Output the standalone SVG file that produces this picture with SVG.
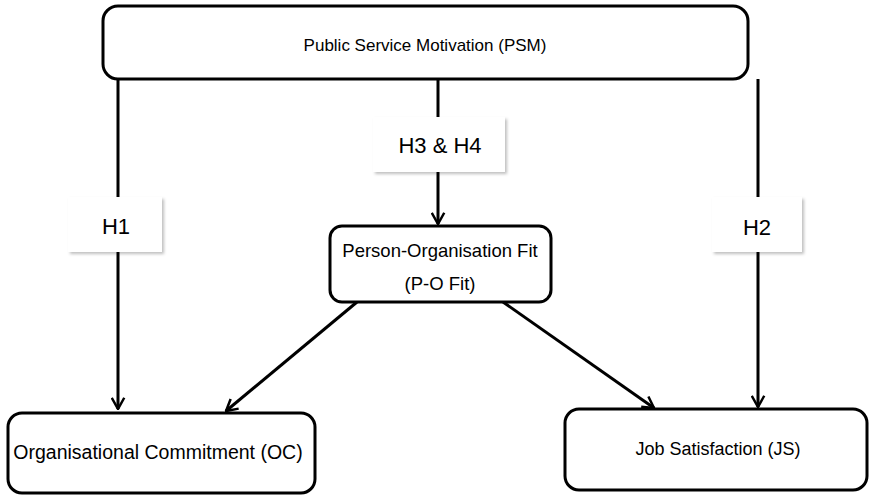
<svg xmlns="http://www.w3.org/2000/svg" width="869" height="495" viewBox="0 0 869 495">
<style>
.box{fill:#fff;stroke:#000;stroke-width:3}
.lbl{fill:#fff;filter:url(#sh)}
.t{font-family:"Liberation Sans",Arial,sans-serif;fill:#000;text-anchor:middle}
.h{font-family:"Liberation Sans",Arial,sans-serif;font-size:22px;fill:#000;text-anchor:middle}
.c{stroke:#000;stroke-width:3;fill:none;marker-end:url(#ah)}
</style>
<defs>
<marker id="ah" viewBox="0 0 12 12" refX="11" refY="6" markerWidth="5" markerHeight="5" orient="auto" markerUnits="strokeWidth">
<polyline points="2,1 11,6 2,11" fill="none" stroke="#000" stroke-width="2"/>
</marker>
<filter id="sh" x="-20%" y="-20%" width="150%" height="150%">
<feDropShadow dx="2" dy="2" stdDeviation="1.5" flood-color="#000" flood-opacity="0.25"/>
</filter>
</defs>
<g id="connectors">
<line class="c" x1="118" y1="79" x2="118" y2="409"/>
<line class="c" x1="438" y1="79" x2="438" y2="224"/>
<line class="c" x1="758" y1="79" x2="758" y2="407"/>
<line class="c" x1="357" y1="302" x2="226" y2="411"/>
<line class="c" x1="503" y1="302" x2="654" y2="408"/>
</g>
<g id="psm">
<rect class="box" x="103" y="6" width="645" height="73" rx="15"/>
<text class="t" x="425" y="51" font-size="17">Public Service Motivation (PSM)</text>
</g>
<g id="h1">
<rect class="lbl" x="68" y="197" width="94" height="55"/>
<text class="h" x="116" y="234">H1</text>
</g>
<g id="h34">
<rect class="lbl" x="373" y="117" width="132" height="55"/>
<text class="h" x="440" y="153">H3 &amp; H4</text>
</g>
<g id="h2">
<rect class="lbl" x="712" y="197" width="90" height="55"/>
<text class="h" x="757" y="235">H2</text>
</g>
<g id="pof">
<rect class="box" x="330" y="226" width="221" height="76" rx="12"/>
<text class="t" x="440" y="257" font-size="18.5">Person-Organisation Fit</text>
<text class="t" x="440" y="290" font-size="18.5">(P-O Fit)</text>
</g>
<g id="oc">
<rect class="box" x="8" y="413" width="307" height="80" rx="14"/>
<text class="t" x="158" y="459" font-size="19.5">Organisational Commitment (OC)</text>
</g>
<g id="js">
<rect class="box" x="565" y="409" width="302" height="81" rx="14"/>
<text class="t" x="718" y="455" font-size="18">Job Satisfaction (JS)</text>
</g>
</svg>
